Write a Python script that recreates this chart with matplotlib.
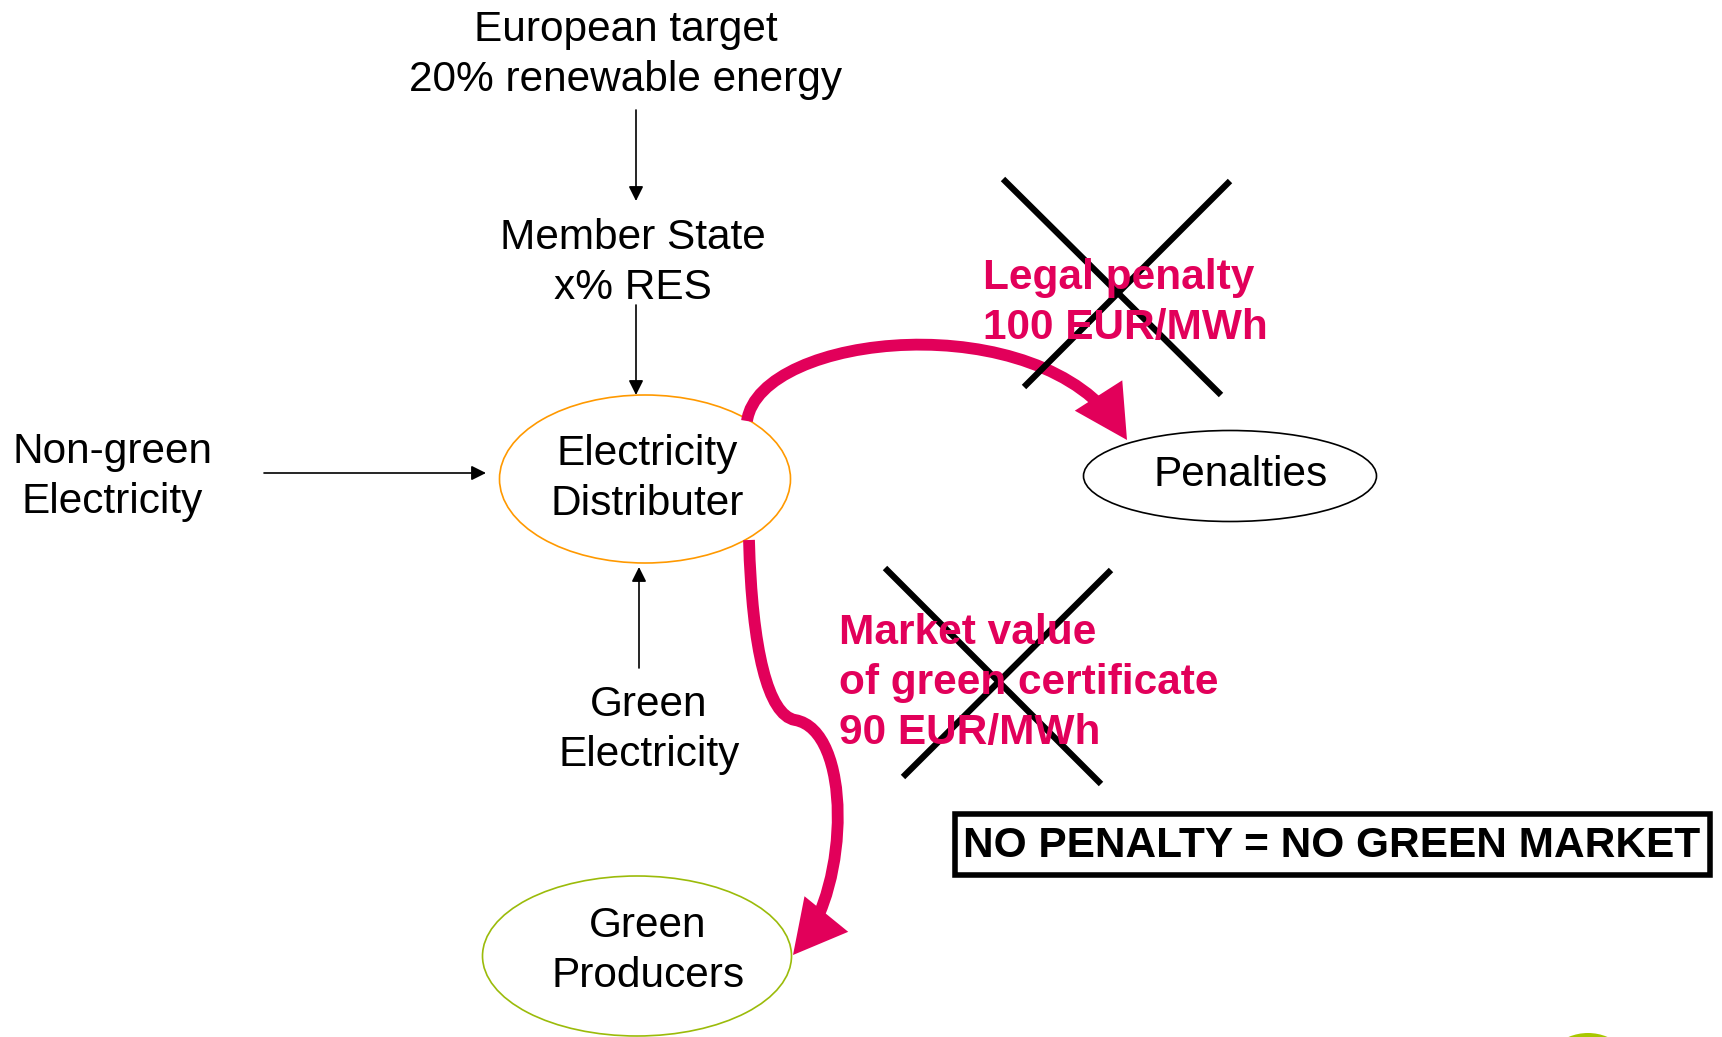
import matplotlib.pyplot as plt
from matplotlib.patches import Ellipse, Rectangle, Circle, FancyArrowPatch
from matplotlib.path import Path

plt.rcParams['font.family'] = ['Liberation Sans', 'DejaVu Sans']

# labels of the diagram
top_label = "European target\n20% renewable energy"
state_label = "Member State\nx% RES"
nongreen_label = "Non-green\nElectricity"
green_in_label = "Green\nElectricity"
distributer_label = "Electricity\nDistributer"
penalties_label = "Penalties"
producers_label = "Green\nProducers"
penalty_text = "Legal penalty\n100 EUR/MWh"
market_text = "Market value\nof green certificate\n90 EUR/MWh"
slogan = "NO PENALTY = NO GREEN MARKET"

RED = "#E2005A"
FS = 30.5
LS = 1.32

fig = plt.figure(figsize=(17.22, 10.37), dpi=100)
ax = fig.add_axes([0, 0, 1, 1])
ax.set_xlim(0, 1722)
ax.set_ylim(1037, 0)
ax.axis('off')

# ellipses
ax.add_patch(Ellipse((645, 479), 291, 168, fill=False, ec="#FF9900", lw=1.2))
ax.add_patch(Ellipse((1230, 476), 293, 91, fill=False, ec="black", lw=1.2))
ax.add_patch(Ellipse((637, 956), 309, 160, fill=False, ec="#9BBB0A", lw=1.2))
ax.add_patch(Circle((1588, 1083), 50, fc="#A8C800", ec="none"))

# plain text
kw = dict(ha='center', va='center', fontsize=FS, linespacing=LS)
ax.text(626, 55, top_label, **kw)
ax.text(633, 263, state_label, **kw)
ax.text(112, 477, nongreen_label, **kw)
ax.text(649, 730, green_in_label, **kw)
ax.text(647, 479, distributer_label, **kw)
ax.text(1241, 475, penalties_label, **kw)
ax.text(648, 951, producers_label, **kw)

# thin black arrows
thin = dict(arrowstyle='-|>', color='black', lw=1.2, mutation_scale=22,
            shrinkA=0, shrinkB=0)
for (x0, y0), (x1, y1) in [((636, 110), (636, 201)),
                           ((636, 305), (636, 395)),
                           ((264, 473), (486, 473)),
                           ((639, 668), (639, 567))]:
    ax.add_patch(FancyArrowPatch((x0, y0), (x1, y1), **thin))

# thick red arrows
C = Path.CURVE4
p1 = Path([(747, 421), (760, 332), (1040, 304), (1127, 440)],
          [Path.MOVETO, C, C, C])
p2 = Path([(749, 540), (752, 650), (768, 715), (795, 720),
           (852, 730), (850, 885), (793, 955)],
          [Path.MOVETO, C, C, C, C, C, C])
for p in (p1, p2):
    ax.add_patch(FancyArrowPatch(path=p, arrowstyle='-|>,head_length=0.45,head_width=0.24',
                                 mutation_scale=55, color=RED, lw=8.5,
                                 joinstyle='miter', capstyle='butt'))

# red labels
ax.text(983, 303, penalty_text, ha='left', va='center', fontsize=FS,
        fontweight='bold', color=RED, linespacing=LS)
ax.text(839, 683, market_text, ha='left', va='center', fontsize=FS,
        fontweight='bold', color=RED, linespacing=LS)

# crosses
for a, b in [((1003, 179), (1221, 395)), ((1230, 181), (1024, 387)),
             ((885, 568), (1101, 784)), ((1111, 570), (903, 777))]:
    ax.plot([a[0], b[0]], [a[1], b[1]], color='black', lw=4.5, solid_capstyle='butt')

# slogan box
ax.add_patch(Rectangle((955, 814), 755, 61, fill=False, ec='black', lw=4))
ax.text(1332, 846, slogan, ha='center', va='center', fontsize=FS, fontweight='bold')

fig.savefig("out.png", dpi=100)
